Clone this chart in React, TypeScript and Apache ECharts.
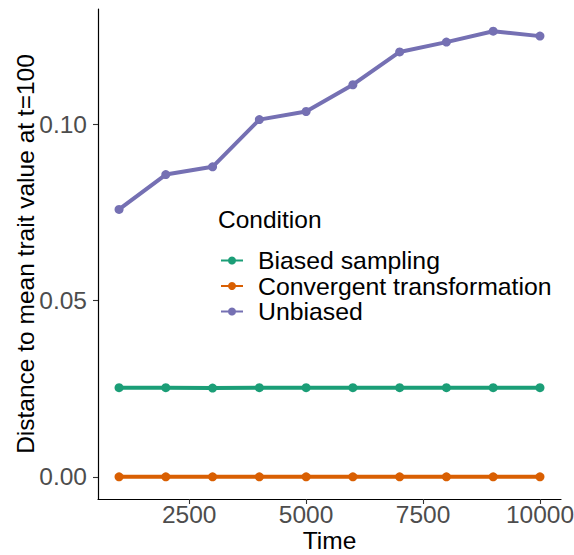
import React, { useEffect, useRef } from "react";
import * as echarts from "echarts";

const times = [1000, 2000, 3000, 4000, 5000, 6000, 7000, 8000, 9000, 10000];
const biasedSampling = [0.0253, 0.0253, 0.0252, 0.0253, 0.0253, 0.0253, 0.0253, 0.0253, 0.0253, 0.0253];
const convergentTransformation = [0, 0, 0, 0, 0, 0, 0, 0, 0, 0];
const unbiased = [0.0759, 0.0858, 0.088, 0.1014, 0.1037, 0.1113, 0.1206, 0.1234, 0.1265, 0.1251];
const xTicks = [2500, 5000, 7500, 10000];
const yTicks = [0, 0.05, 0.1];
const seriesNames = ["Biased sampling", "Convergent transformation", "Unbiased"];
const colors = ["#1B9E77", "#D95F02", "#7570B3"];

const FONT = "'Liberation Sans', Arial, Helvetica, sans-serif";

export default function App() {
  const ref = useRef<HTMLDivElement>(null);
  useEffect(() => {
    if (!ref.current) return;
    const chart = echarts.init(ref.current, null, { renderer: "svg" });
    const datasets = [biasedSampling, convergentTransformation, unbiased];
    chart.setOption({
      animation: false,
      backgroundColor: "#ffffff",
      textStyle: { fontFamily: FONT },
      grid: { left: 98, right: 13, top: 9, bottom: 56, containLabel: false, outerBoundsMode: "none" },
      title: {
        text: "Condition",
        left: 218,
        top: 207,
        padding: 0,
        textStyle: { fontFamily: FONT, fontSize: 24.5, fontWeight: "normal", color: "#000" },
      },
      legend: {
        orient: "vertical",
        left: 220,
        top: 248,
        padding: 0,
        itemWidth: 22,
        itemHeight: 10,
        itemGap: 0.5,
        data: seriesNames,
        textStyle: { fontFamily: FONT, fontSize: 24.8, color: "#000", padding: [0, 0, 0, 10], lineHeight: 24.5 },
      },
      xAxis: {
        type: "value",
        min: 550,
        max: 10450,
        name: "Time",
        nameLocation: "middle",
        nameGap: 29,
        nameMoveOverlap: false,
        nameTextStyle: { fontFamily: FONT, fontSize: 24.5, color: "#000" },
        splitLine: { show: false },
        axisLine: { show: true, onZero: false, lineStyle: { color: "#000", width: 1.2 } },
        axisTick: { show: true, length: 5, customValues: xTicks, lineStyle: { color: "#333", width: 1.1 } },
        axisLabel: {
          customValues: xTicks,
          margin: 3,
          fontFamily: FONT,
          fontSize: 24.5,
          color: "#4D4D4D",
          formatter: (v: number) => String(v),
        },
      },
      yAxis: {
        type: "value",
        min: -0.0063,
        max: 0.1328,
        name: "Distance to mean trait value at t=100",
        nameLocation: "middle",
        nameGap: 60,
        nameMoveOverlap: false,
        nameTextStyle: { fontFamily: FONT, fontSize: 24.5, color: "#000" },
        splitLine: { show: false },
        axisLine: { show: true, onZero: false, lineStyle: { color: "#000", width: 1.2 } },
        axisTick: { show: true, length: 5, customValues: yTicks, lineStyle: { color: "#333", width: 1.1 } },
        axisLabel: {
          customValues: yTicks,
          margin: 11,
          fontFamily: FONT,
          fontSize: 24.5,
          color: "#4D4D4D",
          formatter: (v: number) => v.toFixed(2),
        },
      },
      series: datasets.map((d, i) => ({
        name: seriesNames[i],
        type: "line",
        data: times.map((t, j) => [t, d[j]]),
        symbol: "circle",
        symbolSize: 9,
        showSymbol: true,
        lineStyle: { color: colors[i], width: 4 },
        itemStyle: { color: colors[i] },
        emphasis: { disabled: true },
      })),
    });
    return () => chart.dispose();
  }, []);
  return <div ref={ref} style={{ width: 574, height: 555, position: "absolute", left: 0, top: 0 }} />;
}
